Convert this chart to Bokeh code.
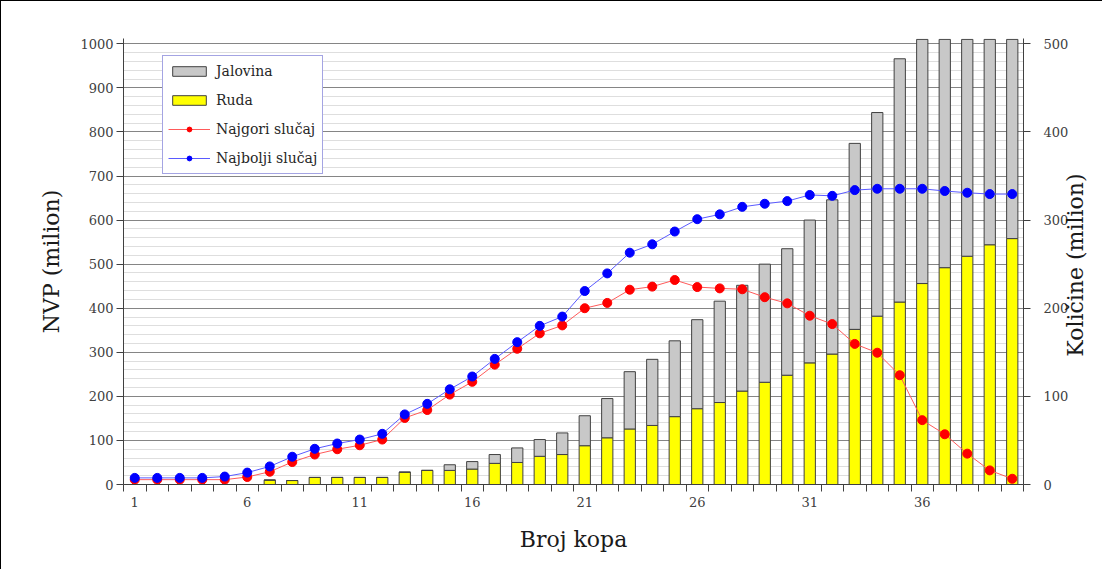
import math
from bokeh.plotting import figure
from bokeh.models import (Range1d, LinearAxis, FixedTicker, Legend, LegendItem,
                          ColumnDataSource)
from bokeh.embed import file_html
from bokeh.resources import INLINE

kopovi = list(range(1, 41))
najbolji = [15, 15, 15, 15, 18, 27, 41, 63, 81, 93, 102, 115, 159, 183, 216, 245,
            285, 323, 360, 381, 439, 479, 526, 545, 574, 602, 613, 630, 637, 643,
            657, 655, 668, 671, 671, 671, 666, 662, 659, 659]
najgori = [11, 11, 11, 11, 11, 17, 29, 51, 68, 80, 89, 102, 151, 169, 204, 233,
           272, 308, 343, 361, 400, 412, 442, 449, 464, 448, 445, 443, 425, 411,
           383, 364, 319, 299, 248, 146, 114, 70, 32, 13]
ruda = [0, 0, 0, 0, 0, 0, 5, 4.5, 8, 8, 8, 8, 14, 16, 16, 17.5, 24, 25, 32, 34,
        44, 53, 63, 67, 77, 86, 93, 106, 116, 124, 138, 148, 176, 191, 207, 228,
        246, 259, 272, 279]
ukupno = [0, 0, 0, 0, 0, 0, 5, 4.5, 8, 8, 8, 8, 14, 16, 22.4, 26, 34, 41.5, 51,
          58.5, 78, 97.5, 128, 142, 163, 187, 208, 226, 250, 267.5, 300, 323, 387,
          422, 483, 505, 505, 505, 505, 505]
jalovina = [u - r for u, r in zip(ukupno, ruda)]
x_label_ticks = [1, 6, 11, 16, 21, 26, 31, 36]
left_ticks = list(range(0, 1001, 100))
left_minor = list(range(0, 1001, 20))
right_ticks = list(range(0, 501, 100))

src = ColumnDataSource(dict(kop=kopovi, ruda=ruda, jalovina=jalovina,
                            najbolji=najbolji, najgori=najgori))

SERIF = "DejaVu Serif"
p = figure(width=1102, height=569, output_backend="svg", toolbar_location=None,
           x_range=Range1d(0.5, 40.5), y_range=Range1d(0, 1012),
           min_border_left=122, min_border_right=74, min_border_top=37,
           min_border_bottom=86)
p.outline_line_color = None
p.styles = {"border-left": "1px solid black", "border-top": "1px solid black"}

p.extra_y_ranges = {"right": Range1d(0, 506)}

# grid
p.xgrid.grid_line_color = None
p.ygrid.ticker = FixedTicker(ticks=left_ticks, minor_ticks=left_minor)
p.ygrid.grid_line_color = "#858585"
p.ygrid.grid_line_width = 1
p.ygrid.minor_grid_line_color = "#dedede"
p.ygrid.minor_grid_line_width = 1

bars = p.vbar_stack(["ruda", "jalovina"], x="kop", width=0.5, source=src,
                    fill_color=["#ffff00", "#c8c8c8"], line_color="#404040",
                    line_width=1, y_range_name="right")

l_gori = p.line("kop", "najgori", source=src, line_color="#ff5a5a", line_width=1)
s_gori = p.scatter("kop", "najgori", source=src, size=9, fill_color="#ff0000",
                   line_color="#ff0000")
l_bolji = p.line("kop", "najbolji", source=src, line_color="#5a5aff", line_width=1)
s_bolji = p.scatter("kop", "najbolji", source=src, size=9, fill_color="#0000ff",
                    line_color="#0000ff")

# axes
xa = p.xaxis[0]
xa.ticker = FixedTicker(ticks=x_label_ticks,
                        minor_ticks=[k + 0.5 for k in range(0, 41)])
xa.major_tick_out = 0
xa.major_tick_in = 0
xa.minor_tick_out = 7
xa.minor_tick_in = 0
xa.minor_tick_line_color = "#404040"
xa.axis_line_color = "#404040"
xa.major_label_text_font = SERIF
xa.major_label_text_font_size = "13px"
xa.major_label_text_color = "#404040"
xa.major_label_standoff = 5
xa.axis_label = "Broj kopa"
xa.axis_label_text_font = SERIF
xa.axis_label_text_font_size = "22px"
xa.axis_label_text_font_style = "normal"
xa.axis_label_text_color = "#1a1a1a"
xa.axis_label_standoff = 17

ya = p.yaxis[0]
ya.ticker = FixedTicker(ticks=left_ticks)
ya.major_tick_out = 7
ya.major_tick_in = 0
ya.minor_tick_line_color = None
ya.major_tick_line_color = "#404040"
ya.axis_line_color = "#404040"
ya.major_label_text_font = SERIF
ya.major_label_text_font_size = "13px"
ya.major_label_text_color = "#404040"
ya.major_label_standoff = 3
ya.axis_label = "NVP (milion)"
ya.axis_label_text_font = SERIF
ya.axis_label_text_font_size = "22px"
ya.axis_label_text_font_style = "normal"
ya.axis_label_text_color = "#1a1a1a"
ya.axis_label_standoff = 13

ra = LinearAxis(y_range_name="right", ticker=FixedTicker(ticks=right_ticks))
ra.major_tick_out = 7
ra.major_tick_in = 0
ra.minor_tick_line_color = None
ra.major_tick_line_color = "#404040"
ra.axis_line_color = "#404040"
ra.major_label_text_font = SERIF
ra.major_label_text_font_size = "13px"
ra.major_label_text_color = "#404040"
ra.major_label_standoff = 13
p.add_layout(ra, "right")

# right-hand title, reading bottom to top (drawn as the single label of an
# otherwise invisible axis; the text starts at the tick and runs upward)
naslov_y = 145
ta = LinearAxis(y_range_name="right", ticker=FixedTicker(ticks=[naslov_y]))
ta.major_label_overrides = {naslov_y: "Količine (milion)"}
ta.major_label_orientation = math.pi / 2
ta.axis_line_color = None
ta.major_tick_line_color = None
ta.minor_tick_line_color = None
ta.major_tick_out = 0
ta.major_tick_in = 0
ta.major_label_standoff = 4
ta.major_label_text_line_height = 0.7
ta.major_label_text_font = SERIF
ta.major_label_text_font_size = "22px"
ta.major_label_text_color = "#1a1a1a"
p.add_layout(ta, "right")

legend = Legend(items=[
    LegendItem(label="Jalovina", renderers=[bars[1]]),
    LegendItem(label="Ruda", renderers=[bars[0]]),
    LegendItem(label="Najgori slučaj", renderers=[l_gori, s_gori]),
    LegendItem(label="Najbolji slučaj", renderers=[l_bolji, s_bolji]),
], location=(39, 310))
legend.margin = 0
legend.padding = 5
legend.spacing = 9
legend.glyph_width = 42
legend.glyph_height = 12
legend.label_height = 20
legend.label_standoff = 6
legend.label_text_font = SERIF
legend.label_text_font_size = "14px"
legend.label_text_color = "#262626"
legend.border_line_color = "#4a4ac8"
legend.border_line_width = 1
legend.background_fill_color = "white"
legend.background_fill_alpha = 1
p.add_layout(legend)

open("out.html", "w").write(file_html(p, INLINE))
